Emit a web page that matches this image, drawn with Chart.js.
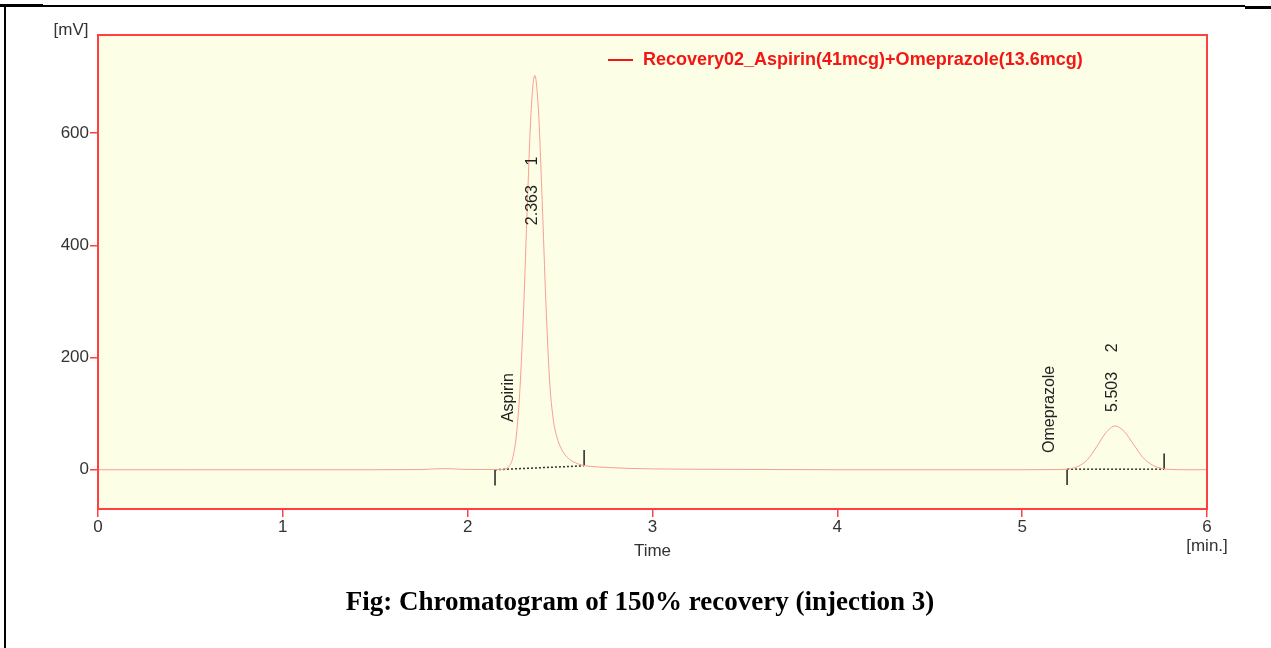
<!DOCTYPE html>
<html>
<head>
<meta charset="utf-8">
<title>Chromatogram</title>
<script src="https://cdn.jsdelivr.net/npm/chart.js@4.4.1/dist/chart.umd.min.js"></script>
<style>
  html, body { margin: 0; padding: 0; background: #fff; }
  .page { position: relative; width: 1271px; height: 648px; overflow: hidden; }
  canvas { position: absolute; left: 0; top: 0; }
  .rule { position: absolute; background: #000; }
</style>
</head>
<body>
<div class="page">
  <canvas id="chromatogram" width="1271" height="648"></canvas>
  <div class="rule" style="left:0;top:4px;width:43px;height:3px"></div>
  <div class="rule" style="left:43px;top:5px;width:1202px;height:2px"></div>
  <div class="rule" style="left:1245px;top:6px;width:26px;height:3px"></div>
  <div class="rule" style="left:4px;top:4px;width:2px;height:644px"></div>
</div>
<script>
// detector trace, time in min and signal in mV
const timeMin = [
  0, 0.5, 1.0, 1.5, 1.75, 1.82, 1.88, 1.94, 2.0, 2.1,
  2.163, 2.203, 2.223, 2.243, 2.263, 2.283, 2.303, 2.323, 2.343, 2.363,
  2.383, 2.403, 2.423, 2.443, 2.463, 2.483, 2.503, 2.523, 2.553, 2.593,
  2.623, 2.663, 2.763, 2.863, 3.0, 3.5, 4.0, 4.5, 5.0, 5.2,
  5.253, 5.303, 5.353, 5.403, 5.453, 5.503, 5.553, 5.603, 5.653, 5.703,
  5.753, 5.803, 5.9, 6.0
]
const signalMv = [
  0, 0, 0, 0, 0.3, 1.5, 2, 1.2, 0.5, 0.5,
  0.5, 1.3, 5.5, 20, 60, 145, 289, 474, 637, 703,
  640, 480, 300, 160, 90, 58, 40, 28, 18, 11,
  8, 6, 4, 2.5, 1.5, 0.5, 0, 0, 0, 0.3,
  1.4, 6, 18, 41, 66, 78, 68, 45, 22, 8.5,
  2.5, 0.5, 0, 0
]

const xTicks = [0, 1, 2, 3, 4, 5, 6]
const yTicks = [0, 200, 400, 600]

const seriesName = "Recovery02_Aspirin(41mcg)+Omeprazole(13.6mcg)"
const peakNames = ["Aspirin", "Omeprazole"]
const peakNumbers = ["1", "2"]
const peakTimes = [2.363, 5.503]

// integration baseline for each peak
const integStart = [2.148, 5.243]
const integStartMv = [0, 1]
const integEnd = [2.63, 5.768]
const integEndMv = [7, 1]

Chart.defaults.font.family = "'Liberation Sans', Arial, sans-serif"
Chart.defaults.color = "#333"

const frameRed = "#ff4040"
const markLen = 28

// where the peak texts sit: [time, mV] of the start of each rotated string
const nameAnchor = [[2.219, 85], [5.148, 30]]
const timeAnchor = [[2.351, 436], [5.490, 103]]

const upText = (ctx, text, x, y, align) => {
  ctx.save()
  ctx.translate(x, y)
  ctx.rotate(-Math.PI / 2)
  ctx.textAlign = align
  ctx.textBaseline = "middle"
  ctx.fillText(text, 0, 0)
  ctx.restore()
}

const decorations = {
  id: "decorations",
  beforeDraw(chart) {
    const { ctx, chartArea: a } = chart
    ctx.save()
    ctx.fillStyle = "#fdfee6"
    ctx.fillRect(a.left, a.top, a.right - a.left, a.bottom - a.top)
    ctx.restore()
  },
  afterDraw(chart) {
    const { ctx, chartArea: a, scales } = chart
    const xs = scales.x
    const ys = scales.y
    ctx.save()

    // plot frame
    ctx.strokeStyle = frameRed
    ctx.lineWidth = 2
    ctx.strokeRect(a.left, a.top, a.right - a.left, a.bottom - a.top)

    // legend
    ctx.strokeStyle = "#f41515"
    ctx.lineWidth = 2
    ctx.beginPath()
    ctx.moveTo(608, 60)
    ctx.lineTo(633, 60)
    ctx.stroke()
    ctx.fillStyle = "#f41515"
    ctx.font = "bold 18px 'Liberation Sans', Arial, sans-serif"
    ctx.textAlign = "left"
    ctx.textBaseline = "middle"
    ctx.fillText(seriesName, 643, 60)

    // peak labels
    ctx.fillStyle = "#222"
    ctx.font = "16px 'Liberation Sans', Arial, sans-serif"
    peakTimes.forEach((t, i) => {
      const label = t.toFixed(3)
      upText(ctx, peakNames[i], xs.getPixelForValue(nameAnchor[i][0]), ys.getPixelForValue(nameAnchor[i][1]), "left")
      const tx = xs.getPixelForValue(timeAnchor[i][0])
      const ty = ys.getPixelForValue(timeAnchor[i][1])
      upText(ctx, label, tx, ty, "left")
      upText(ctx, peakNumbers[i], tx, ty - ctx.measureText(label).width - 24, "center")
    })

    // axis units and titles
    ctx.fillStyle = "#333"
    ctx.font = "17px 'Liberation Sans', Arial, sans-serif"
    ctx.textAlign = "center"
    ctx.textBaseline = "middle"
    ctx.fillText("[mV]", 71, 30)
    ctx.fillText("Time", (a.left + a.right) / 2, 551)
    ctx.fillText("[min.]", a.right, 546)

    // caption
    ctx.fillStyle = "#000"
    ctx.font = "bold 27px 'Liberation Serif', 'Times New Roman', serif"
    ctx.textBaseline = "alphabetic"
    ctx.fillText("Fig: Chromatogram of 150% recovery (injection 3)", 640, 610)

    ctx.restore()
  },
}

const trace = timeMin.map((t, i) => ({ x: t, y: signalMv[i] }))

const baselineSets = integStart.map((t0, i) => ({
  data: [{ x: t0, y: integStartMv[i] }, { x: integEnd[i], y: integEndMv[i] }],
  borderColor: "#333",
  borderWidth: 1.5,
  borderDash: [2, 2],
  pointRadius: 0,
}))

const markerSets = integStart.flatMap((t0, i) => [
  {
    data: [{ x: t0, y: integStartMv[i] }, { x: t0, y: integStartMv[i] - markLen }],
    borderColor: "#222",
    borderWidth: 1.5,
    pointRadius: 0,
  },
  {
    data: [{ x: integEnd[i], y: integEndMv[i] }, { x: integEnd[i], y: integEndMv[i] + markLen }],
    borderColor: "#222",
    borderWidth: 1.5,
    pointRadius: 0,
  },
])

const tickFont = { size: 17, family: "'Liberation Sans', Arial, sans-serif" }

new Chart(document.getElementById("chromatogram"), {
  type: "line",
  data: {
    datasets: [
      {
        label: seriesName,
        data: trace,
        borderColor: "#fa9d95",
        borderWidth: 1,
        pointRadius: 0,
        cubicInterpolationMode: "monotone",
      },
      ...baselineSets,
      ...markerSets,
    ],
  },
  options: {
    responsive: false,
    animation: false,
    devicePixelRatio: 1,
    layout: { padding: { top: 35, right: 64, left: 0, bottom: 0 } },
    plugins: {
      legend: { display: false },
      tooltip: { enabled: false },
    },
    scales: {
      x: {
        type: "linear",
        min: 0,
        max: 6,
        afterBuildTicks: (scale) => {
          scale.ticks = xTicks.map((v) => ({ value: v }))
        },
        afterFit: (scale) => {
          scale.height = 139
        },
        border: { display: false },
        grid: {
          drawOnChartArea: false,
          drawTicks: true,
          tickLength: 8,
          tickColor: frameRed,
          lineWidth: 1.5,
        },
        ticks: {
          font: tickFont,
          color: "#333",
          padding: 0,
          maxRotation: 0,
          autoSkip: false,
        },
      },
      y: {
        type: "linear",
        min: -70,
        max: 775,
        afterBuildTicks: (scale) => {
          scale.ticks = yTicks.map((v) => ({ value: v }))
        },
        afterFit: (scale) => {
          scale.width = 98
        },
        border: { display: false },
        grid: {
          drawOnChartArea: false,
          drawTicks: true,
          tickLength: 8,
          tickColor: frameRed,
          lineWidth: 1.5,
        },
        ticks: {
          font: tickFont,
          color: "#333",
          padding: 1,
        },
      },
    },
  },
  plugins: [decorations],
})
</script>
</body>
</html>
